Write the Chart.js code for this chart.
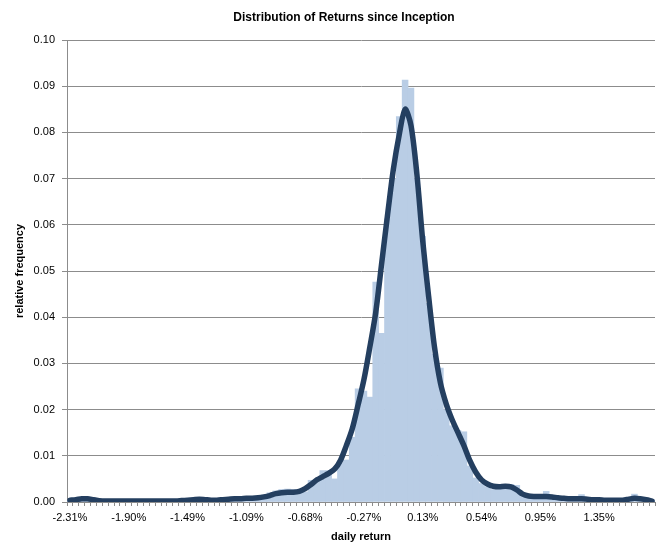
<!DOCTYPE html>
<html><head><meta charset="utf-8">
<script src="https://cdn.jsdelivr.net/npm/chart.js@4/dist/chart.umd.min.js"></script>
<style>html,body{margin:0;padding:0;background:#fff}#wrap{width:658px;height:544px;position:relative}</style>
</head><body><div id="wrap"><canvas id="c"></canvas></div>
<script>
const chartTitle = 'Distribution of Returns since Inception';
const xTitle = 'daily return';
const yTitle = 'relative frequency';
const tickLabels = ['-2.31%','-1.90%','-1.49%','-1.09%','-0.68%','-0.27%','0.13%','0.54%','0.95%','1.35%'];
const yTicks = [0,0.01,0.02,0.03,0.04,0.05,0.06,0.07,0.08,0.09,0.10];
const frequency = [
 0.0003,0.0005,0.0007,0.0006,0.0003,0.0002,0.0002,0.0001,0.0002,0.0002,
 0.0001,0.0002,0.0002,0.0001,0.0002,0.0002,0.0001,0.0002,0.0002,0.0003,
 0.0005,0.0006,0.0006,0.0004,0.0004,0.0005,0.0005,0.0007,0.0006,0.0008,
 0.0008,0.0009,0.0010,0.0015,0.0020,0.0024,0.0027,0.0028,0.0027,0.0021,
 0.0022,0.0047,0.0047,0.0068,0.0068,0.0050,0.0085,0.0091,0.0140,0.0245,
 0.0240,0.0227,0.0476,0.0365,0.0613,0.0700,0.0834,0.0913,0.0896,0.0700,
 0.0575,0.0430,0.0320,0.0290,0.0200,0.0165,0.0155,0.0152,0.0078,0.0052,
 0.0040,0.0033,0.0027,0.0028,0.0028,0.0038,0.0036,0.0012,0.0010,0.0011,
 0.0012,0.0023,0.0012,0.0009,0.0008,0.0007,0.0008,0.0016,0.0006,0.0005,
 0.0004,0.0004,0.0005,0.0003,0.0004,0.0005,0.0017,0.0008,0.0005,0.0003
];
const density = [
 0.0004,0.0005,0.0007,0.0007,0.0005,0.0003,0.0002,0.0002,0.0002,0.0002,
 0.0002,0.0002,0.0002,0.0002,0.0002,0.0002,0.0002,0.0002,0.0002,0.0003,
 0.0004,0.0005,0.0006,0.0005,0.0004,0.0004,0.0005,0.0006,0.0007,0.0007,
 0.0008,0.0008,0.0009,0.0011,0.0014,0.0018,0.0020,0.0021,0.0021,0.0023,
 0.0029,0.0038,0.0048,0.0055,0.0062,0.0071,0.0090,0.0122,0.0158,0.0210,
 0.0265,0.0335,0.0410,0.0515,0.0620,0.0720,0.0795,0.0850,0.0815,0.0710,
 0.0565,0.0445,0.0335,0.0258,0.0212,0.0178,0.0150,0.0122,0.0090,0.0065,
 0.0048,0.0039,0.0034,0.0033,0.0034,0.0033,0.0026,0.0017,0.0013,0.0012,
 0.0012,0.0012,0.0011,0.0009,0.0008,0.0007,0.0007,0.0007,0.0006,0.0005,
 0.0005,0.0004,0.0004,0.0004,0.0004,0.0006,0.0008,0.0007,0.0005,0.0002
];
const categories = frequency.map((_, i) => i);
const FONT = "'Liberation Sans', Arial, sans-serif";
const gridGray = '#8c8c8c';

const titlesPlugin = {
  id: 'titles',
  afterDraw(chart) {
    const ctx = chart.ctx, a = chart.chartArea;
    ctx.save();
    ctx.fillStyle = '#000';
    ctx.textAlign = 'center';
    ctx.textBaseline = 'middle';
    ctx.font = 'bold 12px ' + FONT;
    ctx.fillText(chartTitle, 344, 18);
    ctx.font = 'bold 11px ' + FONT;
    ctx.fillText(xTitle, (a.left + a.right) / 2, 537);
    ctx.translate(20, (a.top + a.bottom) / 2);
    ctx.rotate(-Math.PI / 2);
    ctx.fillText(yTitle, 0, 0);
    ctx.restore();
  }
};

new Chart(document.getElementById('c'), {
  type: 'bar',
  data: {
    labels: categories,
    datasets: [
      { type: 'line', data: density, order: 0, borderColor: '#243F60', borderWidth: 5.5,
        pointRadius: 0, tension: 0.3, borderJoinStyle: 'round', borderCapStyle: 'round', fill: false },
      { type: 'bar', data: frequency, order: 1, backgroundColor: '#B9CDE5',
        barPercentage: 1.0, categoryPercentage: 1.0, borderWidth: 0 }
    ]
  },
  options: {
    responsive: true,
    maintainAspectRatio: false,
    animation: false,
    layout: { padding: { left: 0, right: 3, top: 40, bottom: 0 } },
    plugins: { legend: { display: false }, tooltip: { enabled: false }, title: { display: false } },
    scales: {
      x: {
        type: 'category',
        offset: true,
        afterFit: s => { s.height = 42; },
        grid: { display: true, drawOnChartArea: false, drawTicks: true, tickLength: 4, tickColor: gridGray, offset: true },
        border: { display: true, color: gridGray, width: 1 },
        ticks: {
          autoSkip: false, maxRotation: 0, minRotation: 0, padding: 5,
          color: '#000', font: { family: FONT, size: 11 },
          callback: (v, i) => (i % 10 === 0 && tickLabels[i / 10] !== undefined) ? tickLabels[i / 10] : ''
        }
      },
      y: {
        min: 0, max: 0.10,
        afterFit: s => { s.width = 67; },
        afterBuildTicks: s => { s.ticks = yTicks.map(v => ({ value: v })); },
        grid: { color: gridGray, lineWidth: 1, tickLength: 5, tickColor: gridGray },
        border: { display: true, color: gridGray, width: 1 },
        ticks: { padding: 7, color: '#000', font: { family: FONT, size: 11 }, callback: v => Number(v).toFixed(2) }
      }
    }
  },
  plugins: [titlesPlugin]
});
</script>
</body></html>
